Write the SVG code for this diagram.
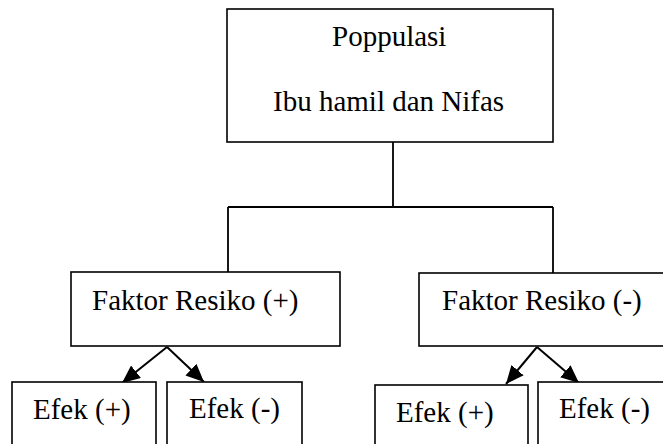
<svg xmlns="http://www.w3.org/2000/svg" width="663" height="444" viewBox="0 0 663 444">
<style>
.box{fill:#fff;stroke:#000;stroke-width:1.6}
.t{font-family:"Liberation Serif","Times New Roman",Times,serif;font-size:29px;fill:#000}
.ln{fill:none;stroke:#000;stroke-width:1.8}
.ar{fill:none;stroke:#000;stroke-width:2;marker-end:url(#ah)}
</style>
<defs>
<marker id="ah" markerUnits="userSpaceOnUse" markerWidth="19" markerHeight="16" refX="18" refY="8" orient="auto">
<path d="M0,0 L18,8 L0,16 Z" fill="#000"/>
</marker>
</defs>
<rect width="663" height="444" fill="#fff"/>
<g id="connectors">
<path class="ln" d="M393,142 V207 M228,207 H553 M228,207 V272 M553,207 V273"/>
<line class="ar" x1="167" y1="347" x2="122" y2="383"/>
<line class="ar" x1="167" y1="347" x2="204" y2="382"/>
<line class="ar" x1="537" y1="347" x2="506" y2="384"/>
<line class="ar" x1="537" y1="347" x2="579" y2="383"/>
</g>
<g id="populasi">
<rect class="box" x="227" y="9" width="326" height="133"/>
<text class="t" x="332" y="46">Poppulasi</text>
<text class="t" x="273" y="111">Ibu hamil dan Nifas</text>
</g>
<g id="faktor-plus">
<rect class="box" x="71" y="272" width="269" height="74"/>
<text class="t" x="92" y="310">Faktor Resiko (+)</text>
</g>
<g id="faktor-minus">
<rect class="box" x="419" y="273" width="260" height="73"/>
<text class="t" x="442" y="310">Faktor Resiko (-)</text>
</g>
<g id="efek1">
<rect class="box" x="12" y="382" width="144" height="70"/>
<text class="t" x="33" y="419">Efek (+)</text>
</g>
<g id="efek2">
<rect class="box" x="167" y="382" width="135" height="70"/>
<text class="t" x="189" y="418">Efek (-)</text>
</g>
<g id="efek3">
<rect class="box" x="375" y="385" width="153" height="70"/>
<text class="t" x="396" y="422">Efek (+)</text>
</g>
<g id="efek4">
<rect class="box" x="538" y="382" width="140" height="70"/>
<text class="t" x="559" y="418">Efek (-)</text>
</g>
</svg>
